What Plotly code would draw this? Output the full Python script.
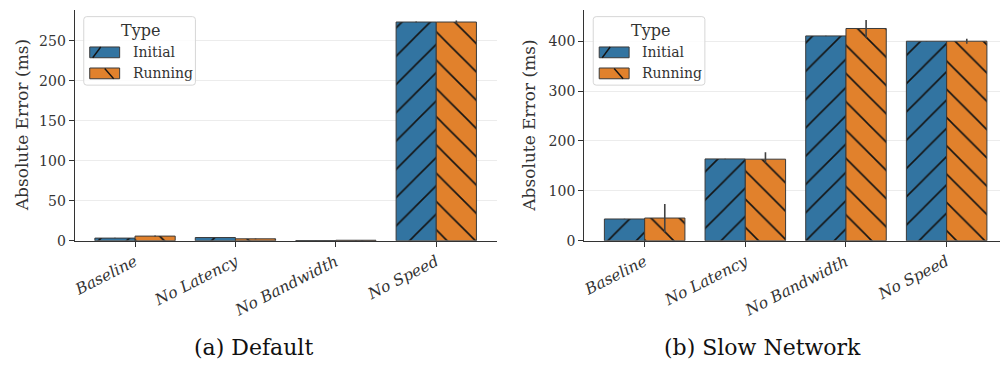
import plotly.graph_objects as go

# ---- data ----------------------------------------------------------------
categories = ["Baseline", "No Latency", "No Bandwidth", "No Speed"]

# (a) Default network
default_initial = [3.3, 4.0, 0.2, 273.7]
default_initial_err = [0.3, 0.4, 0.1, 0.6]
default_running = [5.8, 2.4, 0.6, 273.7]
default_running_err = [0.8, 0.4, 0.2, 2.0]

# (b) Slow network
slow_initial = [43.6, 164.0, 410.6, 400.0]
slow_initial_err = [0.5, 0.5, 0.5, 0.5]
slow_running = [45.5, 163.5, 425.5, 400.0]
slow_running_err_plus = [28.0, 14.0, 17.0, 5.0]
slow_running_err_minus = [29.0, 7.0, 19.0, 5.0]

series_names = ["Initial", "Running"]
captions = ["(a) Default", "(b) Slow Network"]

# ---- style ---------------------------------------------------------------
W, H = 1000, 374
BLUE = "#3274a1"
ORANGE = "#e1812c"
EDGE = "#3a3a3a"
INK = "#333333"
ERR = "#424242"
SERIF = "'DejaVu Serif', serif"


def px(x):
    return x / W


def py(y):
    return 1 - y / H


def bar(name, x, y, color, shape, err_plus, err_minus, xaxis, yaxis):
    return go.Bar(
        name=name, x=x, y=y, xaxis=xaxis, yaxis=yaxis, showlegend=False,
        marker=dict(
            color=color,
            line=dict(color=EDGE, width=1),
            pattern=dict(shape=shape, fgcolor="#141414", bgcolor=color,
                         size=20, solidity=0.08, fillmode="replace"),
        ),
        error_y=dict(type="data", symmetric=False, array=err_plus,
                     arrayminus=err_minus, color=ERR, thickness=1.6, width=0),
    )


fig = go.Figure()
fig.add_trace(bar(series_names[0], categories, default_initial, BLUE, "/",
                  default_initial_err, default_initial_err, "x", "y"))
fig.add_trace(bar(series_names[1], categories, default_running, ORANGE, "\\",
                  default_running_err, default_running_err, "x", "y"))
fig.add_trace(bar(series_names[0], categories, slow_initial, BLUE, "/",
                  slow_initial_err, slow_initial_err, "x2", "y2"))
fig.add_trace(bar(series_names[1], categories, slow_running, ORANGE, "\\",
                  slow_running_err_plus, slow_running_err_minus, "x2", "y2"))

y_dom = [py(246), py(10)]

xaxis_common = dict(
    type="category", showgrid=False, zeroline=False,
    showline=True, linecolor=INK, linewidth=1.25,
    ticks="outside", ticklen=5, tickwidth=1.25, tickcolor=INK,
    tickangle=-27,
    tickfont=dict(family=SERIF, size=15.5, color=INK, style="italic"),
)
yaxis_common = dict(
    showgrid=True, gridcolor="#ececec", gridwidth=1, zeroline=False,
    showline=True, linecolor=INK, linewidth=1.25,
    ticks="outside", ticklen=5, tickwidth=1.25, tickcolor=INK,
    tickfont=dict(family=SERIF, size=14, color=INK),
)

fig.update_layout(
    width=W, height=H,
    margin=dict(l=0, r=0, t=0, b=0),
    paper_bgcolor="white", plot_bgcolor="white",
    barmode="group", bargap=0.2, bargroupgap=0,
    showlegend=False,
    xaxis=dict(domain=[px(72), px(495)], range=[-0.6, 3.6], anchor="y",
               **xaxis_common),
    yaxis=dict(domain=y_dom, range=[0, 289], anchor="x",
               tickvals=[0, 50, 100, 150, 200, 250], **yaxis_common),
    xaxis2=dict(domain=[px(583), 1.0], range=[-0.6, 3.53], anchor="y2",
                **xaxis_common),
    yaxis2=dict(domain=y_dom, range=[0, 463], anchor="x2",
                tickvals=[0, 100, 200, 300, 400], **yaxis_common),
)

annotations = []
shapes = []

# y-axis titles
for xc in (19, 528):
    annotations.append(dict(
        x=px(xc), y=py(128), xref="paper", yref="paper",
        text="Absolute Error (ms)", textangle=-90, showarrow=False,
        font=dict(family=SERIF, size=17, color=INK),
        xanchor="center", yanchor="middle"))

# captions under each panel
for xc, text in zip((251, 762), captions):
    annotations.append(dict(
        x=px(xc), y=py(355), xref="paper", yref="paper", text=text,
        showarrow=False, font=dict(family=SERIF, size=22, color="#111111"),
        xanchor="center", yanchor="middle"))


def rounded_rect(x0, y0, x1, y1, r):
    X0, X1 = px(x0), px(x1)
    Y0, Y1 = py(y0), py(y1)
    rx, ry = r / W, r / H
    return (f"M{X0 + rx},{Y0} L{X1 - rx},{Y0} Q{X1},{Y0} {X1},{Y0 - ry} "
            f"L{X1},{Y1 + ry} Q{X1},{Y1} {X1 - rx},{Y1} "
            f"L{X0 + rx},{Y1} Q{X0},{Y1} {X0},{Y1 + ry} "
            f"L{X0},{Y0 - ry} Q{X0},{Y0} {X0 + rx},{Y0} Z")


# legend box for each panel
for dx in (0, 511):
    shapes.append(dict(
        type="path", xref="paper", yref="paper",
        path=rounded_rect(81 + dx, 17, 193 + dx, 87, 3),
        fillcolor="rgba(255,255,255,0.85)",
        line=dict(color="#d6d6d6", width=1)))
    annotations.append(dict(
        x=px(138 + dx), y=py(31), xref="paper", yref="paper", text="Type",
        showarrow=False, font=dict(family=SERIF, size=16, color=INK),
        xanchor="center", yanchor="middle"))
    rows = [(48, 59, BLUE, (90, 59, 98, 48)),
            (69.5, 80.5, ORANGE, (102, 70, 111, 80.5))]
    for (top, bot, col, hatch), label in zip(rows, series_names):
        shapes.append(dict(
            type="rect", xref="paper", yref="paper",
            x0=px(87 + dx), x1=px(117 + dx), y0=py(bot), y1=py(top),
            fillcolor=col, line=dict(color=EDGE, width=1)))
        hx0, hy0, hx1, hy1 = hatch
        shapes.append(dict(
            type="line", xref="paper", yref="paper",
            x0=px(hx0 + dx), y0=py(hy0), x1=px(hx1 + dx), y1=py(hy1),
            line=dict(color="#141414", width=1.4)))
        annotations.append(dict(
            x=px(128 + dx), y=py((top + bot) / 2), xref="paper", yref="paper",
            text=label, showarrow=False,
            font=dict(family=SERIF, size=14, color=INK),
            xanchor="left", yanchor="middle"))

fig.update_layout(annotations=annotations, shapes=shapes)

fig.write_html("out.html")
